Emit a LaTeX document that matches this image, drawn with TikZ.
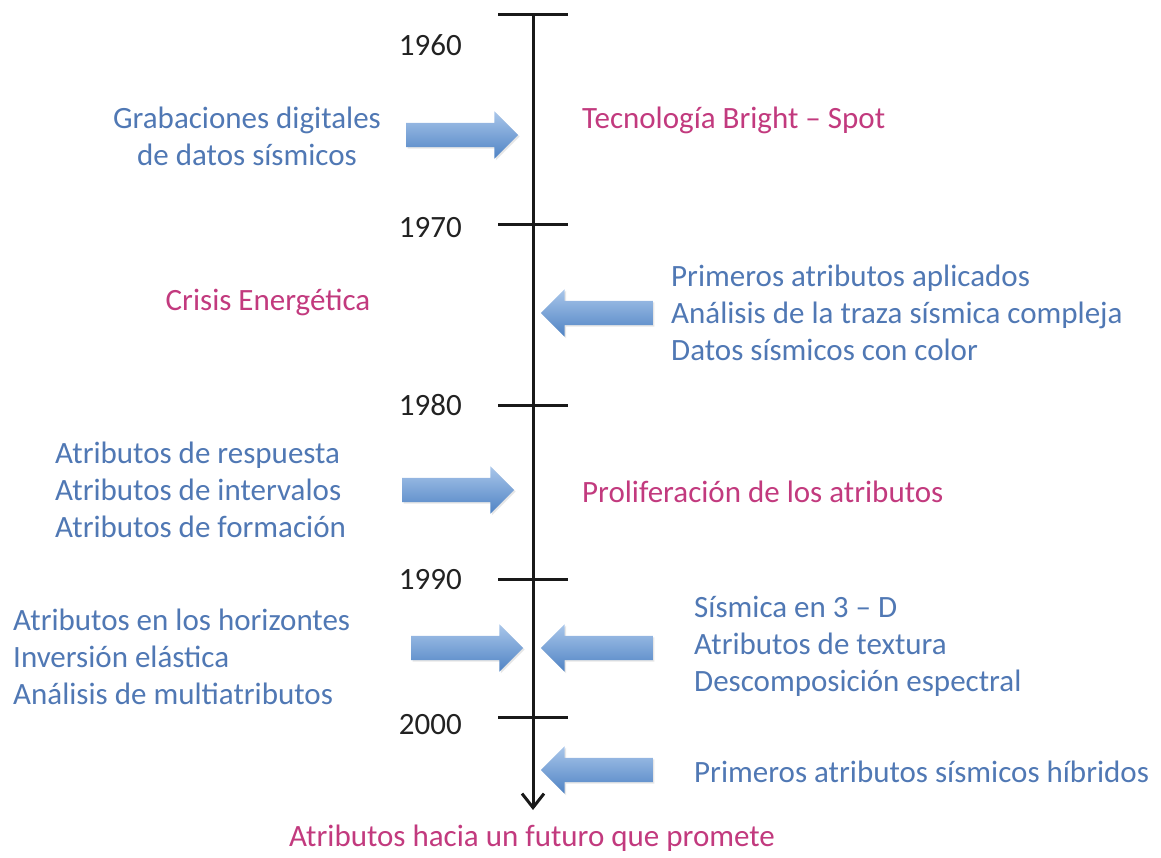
\documentclass[tikz,border=0pt]{standalone}
\usepackage{fontspec}
\setmainfont{Carlito}
\usetikzlibrary{arrows.meta,shapes.arrows,shadows}
\definecolor{txtblue}{HTML}{5078B4}
\definecolor{txtpink}{HTML}{C23A7E}
\definecolor{yeargray}{HTML}{222222}
\definecolor{arrtop}{HTML}{A9C6EA}
\definecolor{arrbot}{HTML}{4F83C4}
\tikzset{
  x=1pt,y=-1pt,
  bigtxt/.style={font=\fontsize{31}{37}\selectfont, inner sep=0pt},
  bluetxt/.style={bigtxt, text=txtblue},
  pinktxt/.style={bigtxt, text=txtpink},
  yeartxt/.style={bigtxt, text=yeargray, anchor=east},
  blockarrow/.style={single arrow, single arrow head extend=11.5pt, single arrow head indent=0pt,
     inner xsep=0pt, inner ysep=12pt, minimum height=112pt, text width=0pt,
     top color=arrtop, bottom color=arrbot, draw=none,
     drop shadow={opacity=0.2, shadow xshift=1.5pt, shadow yshift=-1.5pt}},
  leftarrow/.style={blockarrow, shape border rotate=180},
  axisline/.style={line width=3pt, draw=black!90},
}
\begin{document}
\begin{tikzpicture}
\useasboundingbox (0,0) rectangle (1161,858);
% axis
\coordinate (top) at (533,15);
\coordinate (bot) at (533,810);
\draw[axisline, -{Straight Barb[length=14pt,width=22pt,line width=3pt]}] (top) -- (bot);
% ticks
\foreach \n/\y in {a/15,b/225,c/405,d/579,e/717}{
  \coordinate (tl\n) at (498,\y);
  \coordinate (tr\n) at (568,\y);
  \draw[axisline] (tl\n) -- (tr\n);
}
% years
\node[yeartxt] (y1960) at (462,45) {1960};
\node[yeartxt] (y1970) at (462,228) {1970};
\node[yeartxt] (y1980) at (462,405) {1980};
\node[yeartxt] (y1990) at (462,580) {1990};
\node[yeartxt] (y2000) at (462,725) {2000};
% 1960s
\node[blockarrow] (a1) at (456,135) {};
\node[bluetxt, align=center] (t1) at (247,136) {Grabaciones digitales\\de datos sísmicos};
\node[pinktxt, anchor=west] (p1) at (582,120) {Tecnología Bright – Spot};
% 1970s
\node[leftarrow] (a2) at (603,313) {};
\node[pinktxt] (p2) at (268,302) {Crisis Energética};
\node[bluetxt, anchor=west, align=left] (t2) at (671,313) {Primeros atributos aplicados\\Análisis de la traza sísmica compleja\\Datos sísmicos con color};
% 1980s
\node[blockarrow] (a3) at (452,490) {};
\node[bluetxt, anchor=west, align=left] (t3) at (55,490) {Atributos de respuesta\\Atributos de intervalos\\Atributos de formación};
\node[pinktxt, anchor=west] (p3) at (582,492) {Proliferación de los atributos};
% 1990s
\node[blockarrow] (a4) at (461,648) {};
\node[leftarrow] (a5) at (603,648) {};
\node[bluetxt, anchor=west, align=left] (t4) at (13,657) {Atributos en los horizontes\\Inversión elástica\\Análisis de multiatributos};
\node[bluetxt, anchor=west, align=left] (t5) at (694,646) {Sísmica en 3 – D\\Atributos de textura\\Descomposición espectral};
% 2000s
\node[leftarrow] (a6) at (603,770) {};
\node[bluetxt, anchor=west] (t6) at (694,772) {Primeros atributos sísmicos híbridos};
% bottom
\node[pinktxt] (p4) at (532,838) {Atributos hacia un futuro que promete};
\end{tikzpicture}
\end{document}
